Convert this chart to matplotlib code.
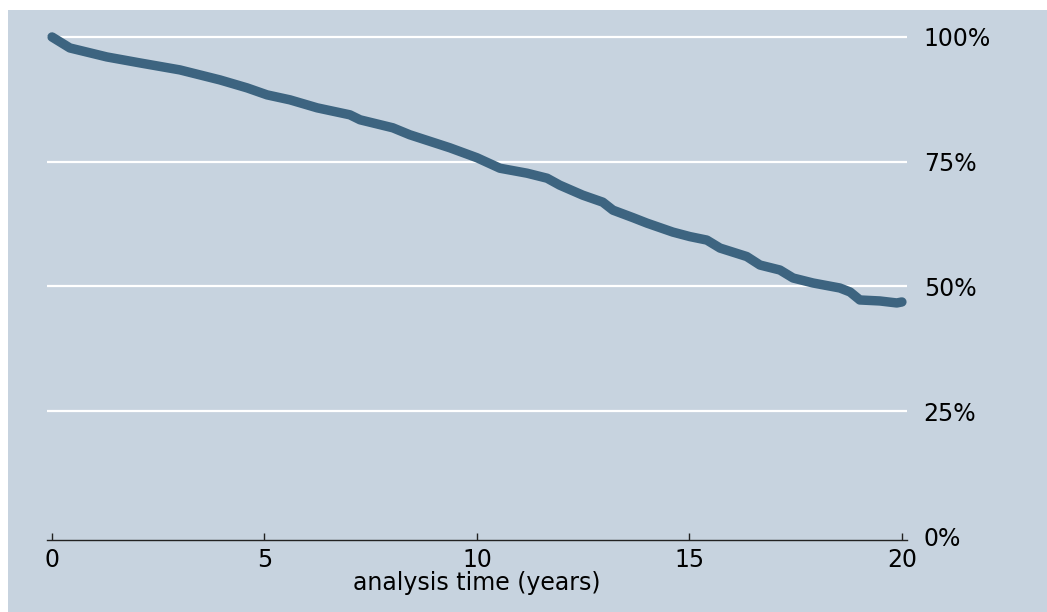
import numpy as np
import matplotlib
matplotlib.use("Agg")
import matplotlib.pyplot as plt
from matplotlib.patches import Rectangle

# Kaplan-Meier survival estimate
time_years = [0.0, 0.42, 1.29, 2.07, 3.01, 3.95, 4.59, 5.06, 5.60, 6.24,
              7.01, 7.25, 8.02, 8.42, 9.36, 10.0, 10.54, 11.18, 11.65, 11.95,
              12.49, 12.96, 13.2, 13.67, 14.0, 14.61, 15.01, 15.41, 15.72, 16.35,
              16.66, 17.13, 17.44, 17.91, 18.54, 18.78, 19.01, 19.48, 19.88, 20.0]
survival = [1.0, 0.978, 0.960, 0.948, 0.934, 0.914, 0.898, 0.884, 0.874, 0.858,
            0.844, 0.834, 0.818, 0.804, 0.778, 0.758, 0.737, 0.727, 0.717, 0.703,
            0.683, 0.669, 0.653, 0.638, 0.627, 0.609, 0.600, 0.593, 0.577, 0.560,
            0.543, 0.533, 0.517, 0.507, 0.497, 0.489, 0.473, 0.471, 0.467, 0.469]

x_ticks = [0, 5, 10, 15, 20]
y_ticks = [0, 0.25, 0.5, 0.75, 1.0]
y_labels = ["0%", "25%", "50%", "75%", "100%"]

bg = "#c7d3df"
line_col = "#3d6480"

fig = plt.figure(figsize=(10.47, 6.12), dpi=100, facecolor="white")
# grey graph region (white strip at top, small margin at left)
fig.patches.append(Rectangle((8 / 1047, 0), 1 - 8 / 1047, 1 - 10 / 612,
                             transform=fig.transFigure, facecolor=bg,
                             edgecolor="none", zorder=-10))

ax = fig.add_axes([47 / 1047, 1 - 540 / 612, 860 / 1047, 515 / 612])
ax.set_zorder(1)
ax.set_facecolor(bg)

ax.plot(time_years, survival, color=line_col, lw=6.8,
        solid_capstyle="round", solid_joinstyle="round", zorder=3)

ax.set_xlim(-0.118, 20.12)
ax.set_ylim(-0.008, 1.024)

for v in y_ticks[1:]:
    ax.axhline(v, color="white", lw=1.6, zorder=1)

for s in ["top", "left", "right"]:
    ax.spines[s].set_visible(False)
ax.spines["bottom"].set_color("#222222")
ax.spines["bottom"].set_linewidth(1.0)

ax.set_xticks(x_ticks)
ax.set_xticklabels([str(t) for t in x_ticks])
ax.tick_params(axis="x", direction="in", length=5, width=1, color="#222222",
               labelsize=17, pad=6)

ax.yaxis.tick_right()
ax.set_yticks(y_ticks)
ax.set_yticklabels(y_labels)
ax.tick_params(axis="y", length=0, labelsize=17, pad=12)

ax.set_xlabel("analysis time (years)", fontsize=17, labelpad=-1)

fig.savefig("out.png", dpi=100, facecolor="white")
